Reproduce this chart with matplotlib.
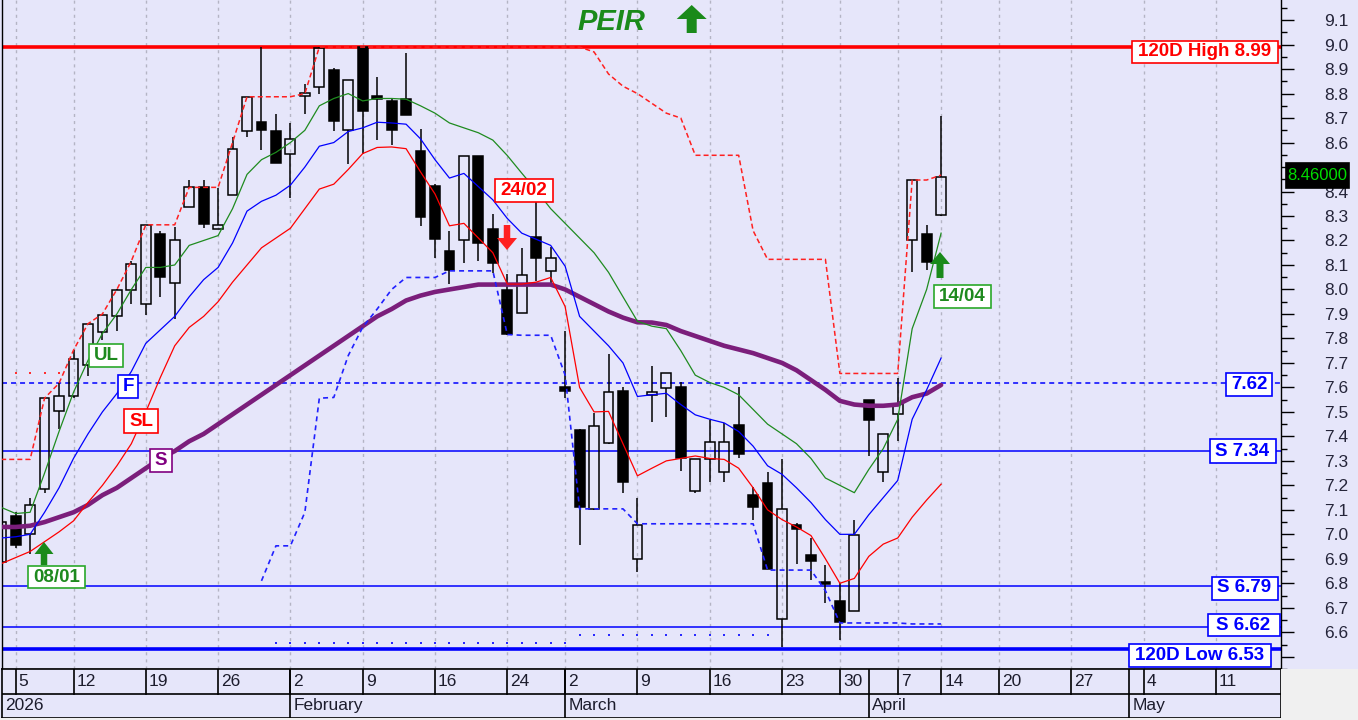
import numpy as np
import pandas as pd
import matplotlib
matplotlib.use("Agg")
import matplotlib.pyplot as plt
from matplotlib.patches import Rectangle
from matplotlib.ticker import FuncFormatter

plt.rcParams['font.family'] = ['Liberation Sans', 'DejaVu Sans']
plt.rcParams['lines.scale_dashes'] = False

# ---------------- data ----------------
dates = ['2026-01-02', '2026-01-05', '2026-01-07', '2026-01-08', '2026-01-09',
         '2026-01-12', '2026-01-13', '2026-01-14', '2026-01-15', '2026-01-16',
         '2026-01-19', '2026-01-20', '2026-01-21', '2026-01-22', '2026-01-23',
         '2026-01-26', '2026-01-27', '2026-01-28', '2026-01-29', '2026-01-30',
         '2026-02-02', '2026-02-03', '2026-02-04', '2026-02-05', '2026-02-06',
         '2026-02-09', '2026-02-10', '2026-02-11', '2026-02-12', '2026-02-13',
         '2026-02-16', '2026-02-17', '2026-02-18', '2026-02-19', '2026-02-20',
         '2026-02-24', '2026-02-25', '2026-02-26', '2026-02-27',
         '2026-03-02', '2026-03-03', '2026-03-04', '2026-03-05', '2026-03-06',
         '2026-03-09', '2026-03-10', '2026-03-11', '2026-03-12', '2026-03-13',
         '2026-03-16', '2026-03-17', '2026-03-18', '2026-03-19', '2026-03-20',
         '2026-03-23', '2026-03-24', '2026-03-26', '2026-03-27', '2026-03-30', '2026-03-31',
         '2026-04-01', '2026-04-02', '2026-04-07', '2026-04-08', '2026-04-09', '2026-04-14']

opens = [6.885, 7.075, 7.00, 7.185, 7.505, 7.563, 7.69, 7.826, 7.893, 7.997,
         7.94, 8.228, 8.026, 8.336, 8.417, 8.247, 8.386, 8.647, 8.685, 8.649,
         8.555, 8.791, 8.825, 8.896, 8.653, 8.989, 8.79, 8.77, 8.777, 8.564,
         8.424, 8.157, 8.204, 8.545, 8.248, 7.997, 7.904, 8.215, 8.076,
         7.60, 7.425, 7.104, 7.374, 7.586, 6.90, 7.567, 7.596, 7.603, 7.178,
         7.306, 7.256, 7.445, 7.162, 7.208, 6.655, 7.04, 6.915, 6.807, 6.729, 6.686,
         7.549, 7.256, 7.493, 8.204, 8.228, 8.305]
highs = [7.06, 7.09, 7.15, 7.56, 7.617, 7.752, 7.86, 7.90, 8.0, 8.116,
         8.264, 8.24, 8.254, 8.447, 8.447, 8.416, 8.622, 8.787, 8.99, 8.717,
         8.679, 8.838, 8.99, 8.906, 8.854, 8.99, 8.869, 8.777, 8.966, 8.656,
         8.43, 8.238, 8.545, 8.545, 8.308, 8.062, 8.17, 8.362, 8.173,
         7.83, 7.43, 7.495, 7.738, 7.60, 7.147, 7.687, 7.66, 7.623, 7.306,
         7.468, 7.455, 7.603, 7.194, 7.256, 7.306, 7.045, 6.983, 6.874, 6.80, 7.057,
         7.55, 7.41, 7.64, 8.447, 8.265, 8.71]
lows = [6.87, 6.945, 6.92, 7.17, 7.43, 7.556, 7.647, 7.792, 7.83, 7.94,
        7.897, 7.97, 7.88, 8.336, 8.251, 8.247, 8.386, 8.622, 8.568, 8.518,
        8.372, 8.717, 8.80, 8.649, 8.511, 8.555, 8.609, 8.591, 8.713, 8.258,
        8.13, 8.022, 8.109, 8.116, 8.069, 7.813, 7.904, 8.035, 8.022,
        7.555, 6.955, 7.10, 7.37, 7.17, 6.847, 7.46, 7.48, 7.26, 7.17,
        7.212, 7.212, 7.31, 7.06, 6.858, 6.54, 6.877, 6.814, 6.72, 6.567, 6.686,
        7.32, 7.212, 7.38, 8.07, 8.08, 8.30]
closes = [7.05, 6.955, 7.12, 7.556, 7.565, 7.718, 7.86, 7.896, 7.997, 8.105,
          8.264, 8.049, 8.204, 8.417, 8.268, 8.264, 8.575, 8.787, 8.652, 8.518,
          8.615, 8.804, 8.987, 8.69, 8.854, 8.73, 8.777, 8.652, 8.713, 8.298,
          8.208, 8.08, 8.545, 8.19, 8.109, 7.819, 8.058, 8.13, 8.127,
          7.585, 7.11, 7.444, 7.583, 7.212, 7.04, 7.583, 7.657, 7.31, 7.306,
          7.378, 7.378, 7.329, 7.11, 6.858, 7.104, 7.02, 6.89, 6.796, 6.641, 6.996,
          7.466, 7.408, 7.533, 8.447, 8.112, 8.46]

ul_line = [7.11, 7.085, 7.09, 7.25, 7.42, 7.58, 7.71, 7.82, 7.90, 8.00,
           8.09, 8.09, 8.10, 8.18, 8.20, 8.22, 8.33, 8.47, 8.53, 8.56,
           8.60, 8.65, 8.75, 8.78, 8.80, 8.77, 8.78, 8.78, 8.777, 8.75,
           8.72, 8.68, 8.66, 8.64, 8.61, 8.547, 8.475, 8.405, 8.33,
           8.27, 8.21, 8.15, 8.07, 7.97, 7.87, 7.85, 7.84, 7.75, 7.65,
           7.62, 7.60, 7.57, 7.51, 7.45, 7.41, 7.37, 7.31, 7.23, 7.20, 7.17,
           7.265, 7.35, 7.47, 7.84, 8.00, 8.23]
f_line = [6.985, 6.99, 7.0, 7.09, 7.19, 7.31, 7.41, 7.50, 7.575, 7.665,
          7.78, 7.835, 7.89, 7.97, 8.04, 8.09, 8.19, 8.32, 8.36, 8.385,
          8.426, 8.50, 8.585, 8.60, 8.645, 8.66, 8.683, 8.68, 8.675, 8.615,
          8.53, 8.455, 8.474, 8.42, 8.366, 8.29, 8.23, 8.205, 8.18,
          8.095, 7.89, 7.83, 7.77, 7.70, 7.563, 7.57, 7.576, 7.53, 7.488,
          7.47, 7.455, 7.42, 7.36, 7.28, 7.245, 7.19, 7.13, 7.06, 7.0, 7.0,
          7.08, 7.15, 7.22, 7.47, 7.59, 7.72]
sl_line = [6.88, 6.905, 6.93, 6.97, 7.01, 7.055, 7.13, 7.20, 7.28, 7.37,
           7.50, 7.64, 7.77, 7.845, 7.89, 7.95, 8.03, 8.10, 8.17, 8.21,
           8.25, 8.33, 8.41, 8.43, 8.49, 8.555, 8.58, 8.582, 8.575, 8.48,
           8.39, 8.26, 8.27, 8.21, 8.15, 8.022, 8.022, 8.03, 8.049,
           7.93, 7.60, 7.50, 7.502, 7.37, 7.239, 7.27, 7.30, 7.31, 7.32,
           7.31, 7.306, 7.27, 7.19, 7.10, 7.06, 7.03, 6.995, 6.90, 6.80, 6.82,
           6.91, 6.96, 6.985, 7.07, 7.14, 7.205]
s_line = [7.03, 7.03, 7.035, 7.05, 7.07, 7.09, 7.12, 7.16, 7.19, 7.23,
          7.27, 7.31, 7.34, 7.38, 7.41, 7.45, 7.49, 7.53, 7.57, 7.61,
          7.65, 7.69, 7.73, 7.77, 7.81, 7.85, 7.89, 7.92, 7.955, 7.975,
          7.99, 8.0, 8.01, 8.02, 8.02, 8.02, 8.02, 8.02, 8.02,
          8.0, 7.97, 7.94, 7.91, 7.885, 7.866, 7.865, 7.855, 7.83, 7.81,
          7.79, 7.77, 7.755, 7.74, 7.72, 7.70, 7.67, 7.63, 7.59, 7.545, 7.53,
          7.525, 7.525, 7.53, 7.56, 7.575, 7.61]
res_line = [7.306, 7.306, 7.306, 7.556, 7.617, 7.752, 7.86, 7.90, 8.0, 8.116,
            8.264, 8.264, 8.264, 8.417, 8.417, 8.417, 8.60, 8.787, 8.787, 8.787,
            8.787, 8.80, 8.99, 8.99, 8.99, 8.99, 8.99, 8.99, 8.99, 8.99,
            8.99, 8.99, 8.99, 8.99, 8.99, 8.99, 8.99, 8.99, 8.99,
            8.99, 8.99, 8.97, 8.88, 8.83, 8.80, 8.76, 8.72, 8.70, 8.548,
            8.548, 8.548, 8.548, 8.24, 8.123, 8.123, 8.123, 8.123, 8.123, 7.657, 7.657,
            7.657, 7.657, 7.657, 8.447, 8.447, 8.467]
nan = np.nan
sup_line = [nan] * 18 + [
    6.81, 6.953, 6.953, 7.09, 7.556, 7.559, 7.73, 7.846, 7.92, 8.0,
    8.049, 8.049, 8.049, 8.076, 8.076, 8.076, 8.076, 7.816, 7.813, 7.813, 7.813,
    7.65, 7.104, 7.104, 7.104, 7.104, 7.043, 7.043, 7.043, 7.043, 7.043,
    7.043, 7.043, 7.043, 7.043, 6.854, 6.854, 6.854, 6.854, 6.77, 6.638, 6.638,
    6.638, 6.638, 6.638, 6.634, 6.634, 6.634]

red_dots_level, red_dots_span = 7.657, (0, 4)
blue_dots_a_level, blue_dots_a_span = 6.557, (19, 39)
blue_dots_b_level, blue_dots_b_span = 6.588, (40, 53)

high_120d = 8.99
low_120d = 6.53
support_levels = [7.34, 6.79, 6.62]
pivot_level = 7.62

# ---------------- layout helpers ----------------
BG = '#E6E6FA'
W, H = 1358, 720
X0_PX, DX_PX = 1.2, 14.46


def xd(px):
    return (px - X0_PX) / DX_PX


def yd(py):
    return 9.0 - (py - 45.0) / 247.0


fig = plt.figure(figsize=(W / 100, H / 100), dpi=100, facecolor=BG)
ax = fig.add_axes([2 / W, 1 - 669 / H, 1279 / W, 669 / H], facecolor=BG)
ax.set_xlim(xd(2), xd(1281))
ax.set_ylim(yd(669), yd(0))

n = len(opens)
idx = np.arange(n)

past = pd.to_datetime(dates)
future = pd.bdate_range('2026-04-15', '2026-05-15')
cal = past.append(future)
weeks = [d.isocalendar()[1] for d in cal]
week_starts = [i for i in range(1, len(cal)) if weeks[i] != weeks[i - 1]]
month_starts = [i for i in range(1, len(cal)) if cal[i].month != cal[i - 1].month]

# grid
for i in week_starts:
    ax.axvline(i, color='#B4B4C4', lw=1.0, ls=(0, (2.2, 2.9)), zorder=0.5)

# horizontal levels
ax.axhline(high_120d, color='#FF0000', lw=2.6, zorder=1.6)
ax.axhline(low_120d, color='#0000FF', lw=2.6, zorder=1.6)
for s in support_levels:
    ax.axhline(s, color='#0000FF', lw=1.1, zorder=1.5)
ax.axhline(pivot_level, color='#0000FF', lw=1.1, ls=(0, (3.6, 2.9)), zorder=1.5)

# sparse dotted levels
for lvl, (a, b), col in [(red_dots_level, red_dots_span, '#FF3030'),
                         (blue_dots_a_level, blue_dots_a_span, '#2828FF'),
                         (blue_dots_b_level, blue_dots_b_span, '#2828FF')]:
    xs = np.arange(a, b + 1)
    ax.plot(xs, [lvl] * len(xs), ls='none', marker='s', ms=1.6, mew=0, color=col, zorder=1.7)

# candles
bw = 0.68
for i, (o, h, l, c) in enumerate(zip(opens, highs, lows, closes)):
    lo, hi = min(o, c), max(o, c)
    if l < lo:
        ax.plot([i, i], [l, lo], color='black', lw=1.1, zorder=3, solid_capstyle='butt')
    if h > hi:
        ax.plot([i, i], [hi, h], color='black', lw=1.1, zorder=3, solid_capstyle='butt')
    up = c >= o
    ax.add_patch(Rectangle((i - bw / 2, lo), bw, max(hi - lo, 0.004),
                           facecolor='none' if up else 'black', edgecolor='black',
                           lw=1.1, zorder=3))

# indicator lines
ax.plot(idx, s_line, color='#7B1E7B', lw=3.3, zorder=4, solid_capstyle='round')
ax.plot(idx, sl_line, color='#FF0000', lw=0.9, zorder=4.1)
ax.plot(idx, f_line, color='#0000FF', lw=0.9, zorder=4.1)
ax.plot(idx, ul_line, color='#1F8B1F', lw=0.9, zorder=4.1)
ax.plot(idx, res_line, color='#FF2020', lw=1.1, ls=(0, (3.6, 2.2)), zorder=4.2)
ax.plot(idx, sup_line, color='#2020FF', lw=1.2, ls=(0, (3.6, 2.9)), zorder=4.2)

# y axis on the right
last_close = closes[-1]
ax.yaxis.tick_right()
ax.set_yticks(np.round(np.arange(6.5, 9.15, 0.1), 1))
ax.set_yticks(np.round(np.arange(6.45, 9.2, 0.05), 2), minor=True)
ax.yaxis.set_major_formatter(FuncFormatter(
    lambda v, p: '' if (v < 6.55 or abs(v - last_close) < 0.06) else f'{v:.1f}'))
ax.tick_params(axis='y', which='major', direction='out', length=9, width=1, pad=22,
               labelsize=12.5, labelcolor='#25253A', color='black')
ax.tick_params(axis='y', which='minor', direction='out', length=4, width=1, color='black')
ax.set_xticks([])
ax.spines['top'].set_visible(False)
for k in ['left', 'right', 'bottom']:
    ax.spines[k].set_color('black')
    ax.spines[k].set_linewidth(1.0)

# date band
axd = fig.add_axes([2 / W, 1 - 718 / H, 1279 / W, 49 / H], facecolor=BG)
axd.set_xlim(ax.get_xlim())
axd.set_ylim(0, 2)
axd.set_xticks([])
axd.set_yticks([])
for sp in axd.spines.values():
    sp.set_color('black')
    sp.set_linewidth(1.2)
axd.axhline(1, color='black', lw=1.2)
TXT = '#1C1C2C'
for i in week_starts:
    axd.plot([i, i], [1, 2], color='black', lw=1.2)
    axd.annotate(str(cal[i].day), (i, 1.5), xytext=(2.2, 0), textcoords='offset points',
                 va='center', ha='left', fontsize=12.5, color=TXT, annotation_clip=False)
for i in month_starts:
    axd.plot([i, i], [0, 2], color='black', lw=1.2)
    axd.annotate(cal[i].strftime('%B'), (i, 0.5), xytext=(2.2, 0), textcoords='offset points',
                 va='center', ha='left', fontsize=12.5, color=TXT, annotation_clip=False)
axd.annotate(str(cal[0].year), (axd.get_xlim()[0], 0.5), xytext=(2.5, 0), textcoords='offset points',
             va='center', ha='left', fontsize=12.5, color=TXT)

# gray corner
fig.add_artist(Rectangle((1281 / W, 0), 77 / W, 51 / H, transform=fig.transFigure,
                         facecolor='#F0F0F0', edgecolor='none', zorder=0.1))
fig.add_artist(Rectangle((0, 0), 1, 2 / H, transform=fig.transFigure,
                         facecolor='#F0F0F0', edgecolor='none', zorder=0.1))


# boxes with text (pixel layout)
def label_box(cx, cy, w, h, text, color, text_color=None, size=13.5,
              face='white', weight='bold', lw=1.2):
    fig.add_artist(Rectangle(((cx - w / 2) / W, 1 - (cy + h / 2) / H), w / W, h / H,
                             transform=fig.transFigure, facecolor=face, edgecolor=color,
                             lw=lw, zorder=8))
    fig.text(cx / W, 1 - cy / H, text, color=text_color or color, fontsize=size,
             fontweight=weight, ha='center', va='center', zorder=8.1)


def arrow(x, y_tail, y_tip, color, shaft, head_w, head_l):
    ax.annotate('', xy=(x, H - y_tip), xytext=(x, H - y_tail),
                xycoords='figure pixels', textcoords='figure pixels',
                arrowprops=dict(width=shaft * 0.72, headwidth=head_w * 0.72,
                                headlength=head_l * 0.72, color=color, shrink=0, lw=0),
                zorder=8, annotation_clip=False)


GREEN_T = '#1E8A1E'
GREEN_B = '#2AA82A'
label_box(1204.5, 52, 146, 22, f'120D High {high_120d:.2f}', '#FF0000')
label_box(1249, 384.5, 46, 23, f'{pivot_level:.2f}', '#0000FF')
label_box(1242.5, 451, 66, 24, f'S {support_levels[0]:.2f}', '#0000FF')
label_box(1244.5, 588, 66, 23, f'S {support_levels[1]:.2f}', '#0000FF')
label_box(1243.5, 625, 72, 22, f'S {support_levels[2]:.2f}', '#0000FF')
label_box(1200, 655.5, 142, 23, f'120D Low {low_120d:.2f}', '#0000FF')

label_box(106, 355.5, 34, 23, 'UL', GREEN_B, GREEN_T)
label_box(128, 386.5, 20, 23, 'F', '#0000FF')
label_box(141, 421, 34, 24, 'SL', '#FF0000')
label_box(161, 460.5, 22, 23, 'S', '#800080')
label_box(56.5, 577, 57, 22, '08/01', GREEN_B, GREEN_T)
label_box(524, 190.5, 58, 23, '24/02', '#FF0000')
label_box(962.5, 296.5, 57, 23, '14/04', GREEN_B, GREEN_T)

label_box(1317, 175, 63, 25, f'{last_close:.5f}', 'black', '#00DD00', size=12,
          face='black', weight='normal')

arrow(44, 565, 542, '#1A8A1A', 6.5, 19, 12)
arrow(940, 278, 252, '#1A8A1A', 7, 20, 12)
arrow(507, 225, 250, '#FF2020', 6.5, 20, 12)
arrow(691.7, 33, 5, '#1A8A1A', 10, 30, 14)

fig.text(611 / W, 1 - 22 / H, 'PEIR', color='#1A8A1A', fontsize=21, fontweight='bold',
         fontstyle='italic', ha='center', va='center', zorder=8)

fig.savefig('out.png', dpi=100, facecolor=BG)
